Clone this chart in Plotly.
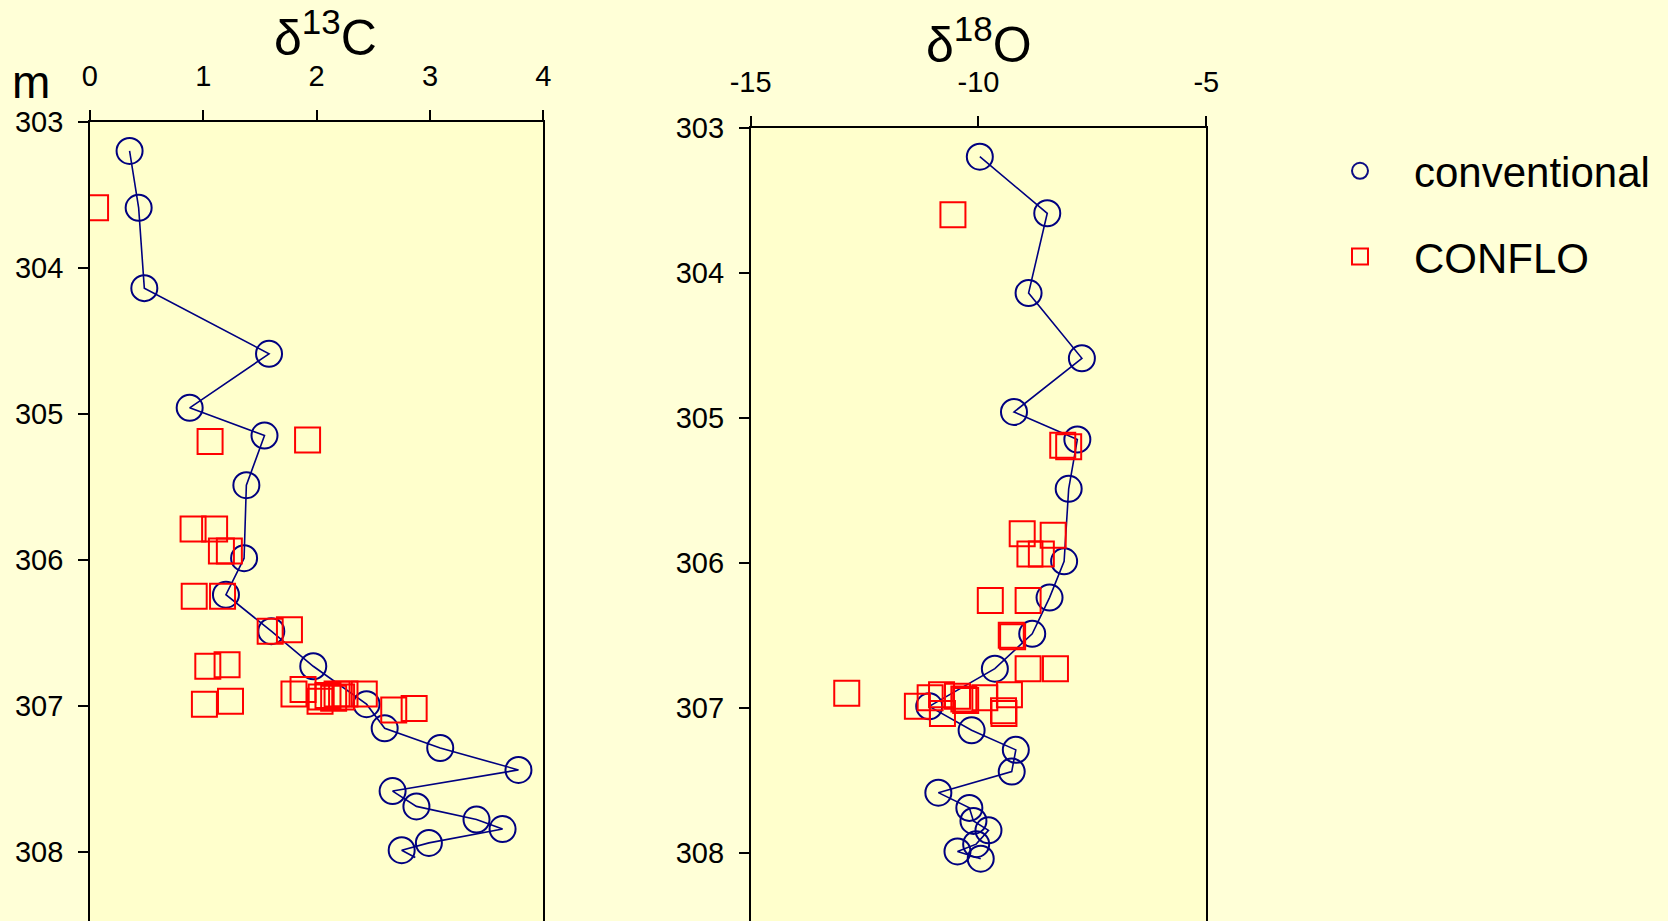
import plotly.graph_objects as go

# ---- data ----
depth_conv = [303.20, 303.59, 304.14, 304.59, 304.96, 305.15, 305.49, 305.99, 306.24, 306.49,
              306.73, 306.99, 307.155, 307.29, 307.44, 307.585, 307.69, 307.78, 307.845, 307.94,
              307.99, 308.04]
d13C_conv = [0.35, 0.43, 0.48, 1.58, 0.88, 1.54, 1.38, 1.36, 1.20, 1.60,
             1.97, 2.44, 2.60, 3.09, 3.78, 2.67, 2.88, 3.41, 3.64, 2.99,
             2.75, 2.87]
d18O_conv = [-9.97, -8.49, -8.90, -7.73, -9.22, -7.83, -8.02, -8.12, -8.44, -8.82,
             -9.64, -11.08, -10.15, -9.18, -9.27, -10.88, -10.20, -10.11, -9.78, -10.05,
             -10.46, -9.95]
conv_marker_shown = [1] * 21 + [0]   # last sample of the d13C line has no symbol drawn

depth_cf_C = [303.59, 305.19, 305.18, 305.79, 305.79, 305.94, 305.94, 306.25, 306.25, 306.49,
              306.48, 306.73, 306.72, 306.99, 306.97, 306.92, 306.89, 306.97, 306.94, 306.93,
              306.95, 306.92, 306.94, 306.92, 306.92, 307.03, 307.02]
d13C_cf = [0.05, 1.06, 1.92, 0.91, 1.10, 1.16, 1.23, 0.92, 1.17, 1.59,
           1.76, 1.04, 1.21, 1.01, 1.24, 1.80, 1.88, 2.03, 2.04, 2.10,
           2.15, 2.18, 2.22, 2.25, 2.42, 2.68, 2.86]

depth_cf_O = [303.60, 305.19, 305.20, 305.80, 305.81, 305.94, 305.94, 306.26, 306.26, 306.50,
              306.51, 306.73, 306.73, 306.90, 306.99, 306.93, 306.91, 307.04, 306.92, 306.94,
              306.95, 306.93, 307.02, 307.04, 306.91]
d18O_cf = [-10.56, -8.15, -8.02, -9.04, -8.36, -8.87, -8.62, -9.74, -8.91, -9.28,
           -9.25, -8.91, -8.31, -12.89, -11.34, -11.06, -10.81, -10.79, -10.46, -10.32,
           -10.28, -9.86, -9.45, -9.44, -9.32]

c_ticks = [0, 1, 2, 3, 4]
o_ticks = [-15, -10, -5]
o_ticklabels = ["-15", "-10", "-5"]
depth_ticks = [303, 304, 305, 306, 307, 308]

# ---- styling ----
W, H = 1668, 921
NAVY = "#000080"
RED = "#FF0000"
FONT = "Arial, Liberation Sans, sans-serif"

fig = go.Figure()

fig.add_trace(go.Scatter(x=d13C_conv, y=depth_conv, mode="lines", xaxis="x", yaxis="y",
                         line=dict(color=NAVY, width=1.6), showlegend=False, hoverinfo="skip"))
fig.add_trace(go.Scatter(x=d13C_conv, y=depth_conv, mode="markers", xaxis="x", yaxis="y",
                         name="conventional", legendgroup="conv", showlegend=True,
                         marker=dict(symbol="circle-open", size=26, color=NAVY,
                                     opacity=conv_marker_shown, line=dict(width=2))))
fig.add_trace(go.Scatter(x=d18O_conv, y=depth_conv, mode="lines", xaxis="x2", yaxis="y2",
                         line=dict(color=NAVY, width=1.6), showlegend=False, hoverinfo="skip"))
fig.add_trace(go.Scatter(x=d18O_conv, y=depth_conv, mode="markers", xaxis="x2", yaxis="y2",
                         name="conventional", legendgroup="conv", showlegend=False,
                         marker=dict(symbol="circle-open", size=26, color=NAVY, line=dict(width=2))))
fig.add_trace(go.Scatter(x=d13C_cf, y=depth_cf_C, mode="markers", xaxis="x", yaxis="y",
                         name="CONFLO", legendgroup="conflo", showlegend=True,
                         marker=dict(symbol="square-open", size=25, color=RED, line=dict(width=2))))
fig.add_trace(go.Scatter(x=d18O_cf, y=depth_cf_O, mode="markers", xaxis="x2", yaxis="y2",
                         name="CONFLO", legendgroup="conflo", showlegend=False,
                         marker=dict(symbol="square-open", size=25, color=RED, line=dict(width=2))))

def px_x(p):
    return p / W

def px_y(p):
    return 1 - p / H

xcommon = dict(side="top", showline=True, linecolor="black", linewidth=2, ticks="outside",
               ticklen=10, tickwidth=1.5, tickcolor="black", showgrid=False, zeroline=False,
               tickfont=dict(family=FONT, size=29, color="black"), ticklabelstandoff=12,
               mirror=False, fixedrange=True, automargin=False)
ycommon = dict(showline=True, linecolor="black", linewidth=1.5, ticks="outside", ticklen=10,
               tickwidth=1.5, tickcolor="black", showgrid=False, zeroline=False,
               tickfont=dict(family=FONT, size=29, color="black"), ticklabelstandoff=9,
               mirror=True, tickvals=depth_ticks, fixedrange=True, automargin=False)

fig.update_layout(
    template="none",
    width=W, height=H,
    autosize=False,
    margin=dict(l=0, r=0, t=0, b=0, pad=0),
    paper_bgcolor="#FFFFD7",
    plot_bgcolor="#FFFFCC",
    font=dict(family=FONT, color="black"),
    xaxis=dict(domain=[px_x(89.9), px_x(543.4)], range=[0, 4], tickvals=c_ticks,
               anchor="y", **xcommon),
    yaxis=dict(domain=[0, px_y(121.7)], range=[308.475, 303], anchor="x", **ycommon),
    xaxis2=dict(domain=[px_x(750.6), px_x(1206.3)], range=[-15, -5], tickvals=o_ticks,
                ticktext=o_ticklabels, anchor="y2", **xcommon),
    yaxis2=dict(domain=[0, px_y(127.7)], range=[308.47, 303], anchor="x2", **ycommon),
    legend=dict(x=px_x(1306), y=px_y(137), xanchor="left", yanchor="top",
                font=dict(family=FONT, size=42, color="black"), bgcolor="rgba(0,0,0,0)",
                borderwidth=0, tracegroupgap=28, itemwidth=98, traceorder="grouped"),
    annotations=[
        dict(text="δ<sup>13</sup>C", x=px_x(325.5), y=px_y(34), xref="paper", yref="paper",
             xanchor="center", yanchor="middle", showarrow=False,
             font=dict(family=FONT, size=50, color="black")),
        dict(text="δ<sup>18</sup>O", x=px_x(978.5), y=px_y(41), xref="paper", yref="paper",
             xanchor="center", yanchor="middle", showarrow=False,
             font=dict(family=FONT, size=50, color="black")),
        dict(text="m", x=px_x(31.3), y=px_y(82), xref="paper", yref="paper",
             xanchor="center", yanchor="middle", showarrow=False,
             font=dict(family=FONT, size=46, color="black")),
    ],
)

fig.write_html("out.html", config={"displayModeBar": False},
               post_script="document.body.style.margin='0';")
